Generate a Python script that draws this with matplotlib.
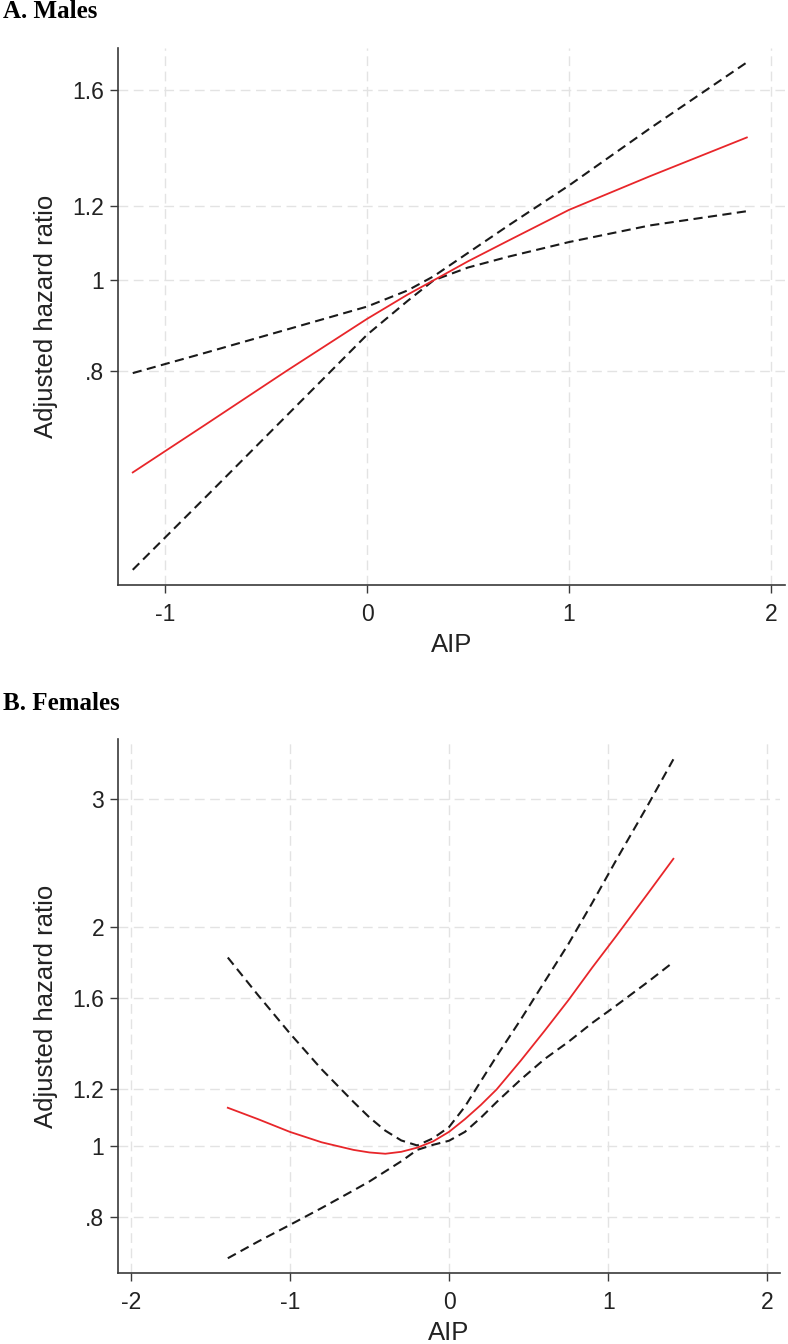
"""
plot.py -- restricted cubic spline hazard ratios for AIP, by sex.
Two stacked panels on a log y axis, Stata look.
"""

import numpy as np
import matplotlib
matplotlib.use("Agg")
import matplotlib.pyplot as plt
from matplotlib.ticker import FixedLocator, FixedFormatter, NullLocator


# ── Data ──────────────────────────────────────────────────────────────────────

# A. Males
male_aip = [-1.16, -0.8, -0.4, 0.0, 0.2, 0.33, 0.5, 0.7, 1.0, 1.4, 1.88]
male_hr = [0.622, 0.700, 0.799, 0.909, 0.965, 1.00, 1.048, 1.103, 1.19, 1.293, 1.423]
male_ci_low = [0.489, 0.585, 0.715, 0.874, 0.95, 1.00, 1.032, 1.06, 1.099, 1.145, 1.186]
male_ci_high = [0.795, 0.836, 0.885, 0.937, 0.975, 1.01, 1.07, 1.145, 1.264, 1.455, 1.713]

# B. Females
female_aip = [-1.39, -1.2, -1.0, -0.8, -0.6, -0.5, -0.4, -0.3, -0.2, -0.1, 0.0,
              0.1, 0.2, 0.3, 0.45, 0.6, 0.75, 0.9, 1.05, 1.25, 1.41]
female_hr = [1.129, 1.089, 1.046, 1.012, 0.988, 0.980, 0.976, 0.982, 0.995, 1.015, 1.046,
             1.089, 1.139, 1.197, 1.31, 1.44, 1.587, 1.76, 1.944, 2.226, 2.484]
female_ci_low = [0.701, 0.739, 0.779, 0.822, 0.869, 0.894, 0.923, 0.953, 0.988, 1.004, 1.017,
                 1.046, 1.094, 1.150, 1.234, 1.317, 1.391, 1.477, 1.560, 1.682, 1.791]
female_ci_high = [1.817, 1.613, 1.429, 1.275, 1.15, 1.095, 1.05, 1.018, 1.002, 1.025, 1.062,
                  1.133, 1.228, 1.33, 1.492, 1.682, 1.896, 2.16, 2.472, 2.945, 3.404]

male_yticks = [0.8, 1.0, 1.2, 1.6]
male_ylabels = [".8", "1", "1.2", "1.6"]
male_xticks = [-1, 0, 1, 2]

female_yticks = [0.8, 1.0, 1.2, 1.6, 2.0, 3.0]
female_ylabels = [".8", "1", "1.2", "1.6", "2", "3"]
female_xticks = [-2, -1, 0, 1, 2]


# ── Style ─────────────────────────────────────────────────────────────────────

SANS = "Liberation Sans"
SERIF = "Liberation Serif"
AXIS_COLOR = "#3a3a3a"
GRID_COLOR = "#e3e3e3"
RED = "#e8262a"


def draw_panel(ax, x, hr, lo, hi, xticks, yticks, ylabels, xlim, ylim):
    """One spline panel: red point estimate, black dashed 95% CI."""
    ax.set_yscale("log")
    ax.set_xlim(*xlim)
    ax.set_ylim(*ylim)

    ax.plot(x, lo, color="#1a1a1a", lw=1.5, linestyle=(0, (4.4, 2.6)), zorder=3)
    ax.plot(x, hi, color="#1a1a1a", lw=1.5, linestyle=(0, (4.4, 2.6)), zorder=3)
    ax.plot(x, hr, color=RED, lw=1.3, zorder=4)

    ax.yaxis.set_major_locator(FixedLocator(yticks))
    ax.yaxis.set_major_formatter(FixedFormatter(ylabels))
    ax.yaxis.set_minor_locator(NullLocator())
    ax.set_xticks(xticks)
    ax.set_xticklabels([str(t) for t in xticks])

    ax.grid(True, which="major", color=GRID_COLOR, lw=1.0, linestyle=(0, (7, 4)), zorder=0)
    ax.set_axisbelow(True)

    for side in ("top", "right"):
        ax.spines[side].set_visible(False)
    for side in ("left", "bottom"):
        ax.spines[side].set_color(AXIS_COLOR)
        ax.spines[side].set_linewidth(1.2)

    ax.tick_params(axis="both", direction="out", length=6, width=1.0,
                   color=AXIS_COLOR, labelsize=16.5, labelcolor="#222222", pad=4)
    ax.tick_params(axis="x", pad=7)
    for lab in ax.get_xticklabels() + ax.get_yticklabels():
        lab.set_family(SANS)

    ax.set_xlabel("AIP", fontsize=18.5, family=SANS, color="#222222", labelpad=5)
    ax.set_ylabel("Adjusted hazard ratio", fontsize=18.5, family=SANS,
                  color="#222222", labelpad=10)


# ── Figure ────────────────────────────────────────────────────────────────────

W, H = 788, 1344
fig = plt.figure(figsize=(W / 100, H / 100), dpi=100)

ax_a = fig.add_axes([118 / W, 1 - 585 / H, (785 - 118) / W, (585 - 48) / H])
draw_panel(ax_a, male_aip, male_hr, male_ci_low, male_ci_high,
           male_xticks, male_yticks, male_ylabels,
           xlim=(-1.233, 2.069), ylim=(0.471, 1.775))

ax_b = fig.add_axes([118 / W, 1 - 1273 / H, (780 - 118) / W, (1273 - 739) / H])
draw_panel(ax_b, female_aip, female_hr, female_ci_low, female_ci_high,
           female_xticks, female_yticks, female_ylabels,
           xlim=(-2.08, 2.08), ylim=(0.669, 3.63))

fig.text(3 / W, 1 - 12 / H, "A. Males", family=SERIF, weight="bold",
         fontsize=18, va="center", ha="left")
fig.text(3 / W, 1 - 703 / H, "B. Females", family=SERIF, weight="bold",
         fontsize=18, va="center", ha="left")

fig.savefig("out.png", dpi=100, facecolor="white")
